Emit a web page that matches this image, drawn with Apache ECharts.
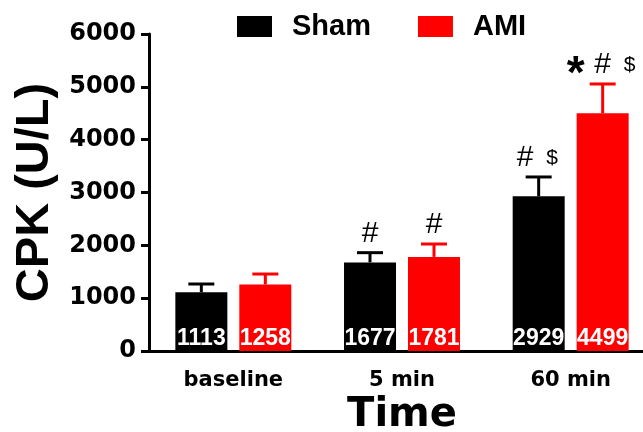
<!DOCTYPE html>
<html>
<head>
<meta charset="utf-8">
<script src="https://cdn.jsdelivr.net/npm/echarts@6/dist/echarts.min.js"></script>
<style>html,body{margin:0;padding:0;background:#fff;}#c{width:643px;height:432px;}</style>
</head>
<body>
<div id="c"></div>
<script>
const categories = ['baseline', '5 min', '60 min'];
const shamValues = [1113, 1677, 2929];
const amiValues = [1258, 1781, 4499];
const shamErrors = [155, 184, 365];
const amiErrors = [199, 244, 555];
const shamMarks = [[], ['#'], ['#', '$']];
const amiMarks = [[], ['#'], ['*', '#', '$']];
const yTicks = { min: 0, max: 6000, interval: 1000 };

const chart = echarts.init(document.getElementById('c'));

const markStyle = {
  '#': { fontSize: 30, fontWeight: 'normal', dy: 0 },
  '$': { fontSize: 21, fontWeight: 'normal', dy: 0 },
  '*': { fontSize: 46, fontWeight: 'bold', dy: 10 }
};

function makeErr(values, errors, marks, side, color) {
  return {
    type: 'custom',
    z: 5,
    silent: true,
    data: values.map((v, i) => [i, v, errors[i]]),
    renderItem: function (params, api) {
      const i = api.value(0), mean = api.value(1), err = api.value(2);
      const base = api.coord([i, mean]);
      const top = api.coord([i, mean + err]);
      const x = base[0] + side * 32;
      const children = [
        { type: 'line', shape: { x1: x, y1: base[1], x2: x, y2: top[1] }, style: { stroke: color, lineWidth: 3 } },
        { type: 'line', shape: { x1: x - 13, y1: top[1], x2: x + 13, y2: top[1] }, style: { stroke: color, lineWidth: 3 } }
      ];
      const m = marks[i];
      m.forEach((t, k) => {
        const s = markStyle[t];
        children.push({
          type: 'text',
          x: x + (k - (m.length - 1) / 2) * 27,
          y: top[1] - 19 + s.dy,
          style: {
            text: t, fill: '#000', align: 'center', verticalAlign: 'middle',
            fontFamily: 'Liberation Sans', fontSize: s.fontSize, fontWeight: s.fontWeight
          }
        });
      });
      return { type: 'group', children: children };
    }
  };
}

const valueLabel = {
  show: true, position: 'insideBottom', distance: 1, color: '#fff',
  fontFamily: 'Liberation Sans', fontWeight: 'bold', fontSize: 23
};

chart.setOption({
  animation: false,
  backgroundColor: '#fff',
  legend: {
    data: [
      { name: 'Sham', icon: 'rect' },
      { name: 'AMI', icon: 'rect' }
    ],
    left: 237, top: 12, padding: 0,
    itemWidth: 35, itemHeight: 21, itemGap: 47,
    textStyle: { fontFamily: 'Liberation Sans', fontWeight: 'bold', fontSize: 29, color: '#000', padding: [0, 0, 0, 15] }
  },
  grid: { left: 149, top: 34, width: 506, height: 317, outerBoundsMode: 'none', containLabel: false },
  xAxis: {
    type: 'category',
    data: categories,
    name: 'Time',
    nameLocation: 'middle',
    nameGap: 35,
    nameTextStyle: { fontFamily: 'DejaVu Sans', fontWeight: 'bold', fontSize: 40, color: '#000' },
    axisLine: { lineStyle: { color: '#000', width: 3 } },
    axisTick: { alignWithLabel: true, length: 8, lineStyle: { color: '#000', width: 3 } },
    axisLabel: { margin: 19, color: '#000', fontFamily: 'DejaVu Sans', fontWeight: 'bold', fontSize: 21 }
  },
  yAxis: {
    type: 'value',
    min: yTicks.min, max: yTicks.max, interval: yTicks.interval,
    name: 'CPK (U/L)',
    nameLocation: 'middle',
    nameRotate: 90,
    nameGap: 89,
    nameTextStyle: { fontFamily: 'Liberation Sans', fontWeight: 'bold', fontSize: 47, color: '#000' },
    splitLine: { show: false },
    axisLine: { show: true, lineStyle: { color: '#000', width: 3 } },
    axisTick: { show: true, length: 8, lineStyle: { color: '#000', width: 3 } },
    axisLabel: { margin: 13, color: '#000', fontFamily: 'DejaVu Sans', fontWeight: 'bold', fontSize: 24, formatter: function (v) { return String(v); } }
  },
  series: [
    { name: 'Sham', type: 'bar', data: shamValues, barWidth: 52, barGap: '23%', itemStyle: { color: '#000' }, label: valueLabel },
    { name: 'AMI', type: 'bar', data: amiValues, barWidth: 52, barGap: '23%', itemStyle: { color: '#ff0000' }, label: valueLabel },
    makeErr(shamValues, shamErrors, shamMarks, -1, '#000'),
    makeErr(amiValues, amiErrors, amiMarks, 1, '#ff0000')
  ]
});
</script>
</body>
</html>
